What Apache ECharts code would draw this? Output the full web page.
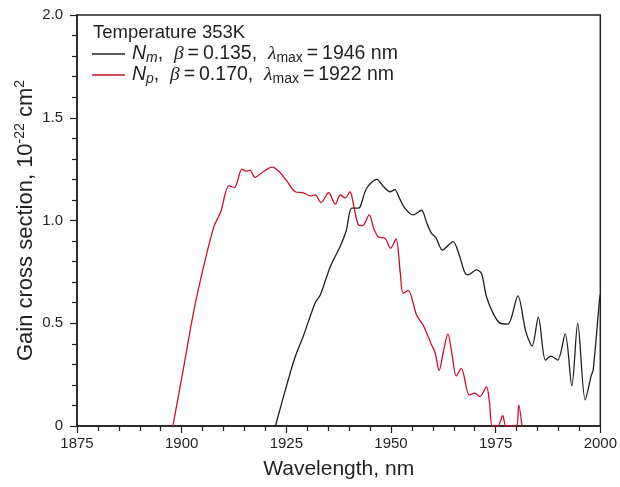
<!DOCTYPE html>
<html>
<head>
<meta charset="utf-8">
<script src="https://cdn.jsdelivr.net/npm/echarts@6/dist/echarts.min.js"></script>
<style>
  html, body { margin: 0; padding: 0; background: #fff; }
  #chart { width: 620px; height: 487px; }
</style>
</head>
<body>
<div id="chart"></div>
<script>
// Nm curve (black)
const nmWave = [1922.4, 1925.2, 1927, 1929.1, 1931.9, 1933.1, 1935.5, 1937.9, 1939.3, 1940.6, 1942, 1942.6, 1944.2, 1946.6, 1948.2, 1949.8, 1950.9, 1952, 1953.3, 1955.3, 1957.3, 1958.5, 1959.7, 1960.7, 1962.3, 1964.8, 1966.3, 1967.6, 1968.4, 1970.4, 1971.6, 1972.8, 1974.4, 1975.9, 1977.9, 1980.3, 1982.2, 1983.7, 1985.2, 1986.9, 1988.2, 1989.8, 1991.6, 1993.2, 1994.6, 1996.4, 1997.8, 1998.3, 1999.8, 2000];
const nmGain = [0, 0.207, 0.33, 0.44, 0.6, 0.637, 0.775, 0.876, 0.95, 1.06, 1.06, 1.065, 1.157, 1.2, 1.165, 1.14, 1.15, 1.11, 1.06, 1.027, 1.05, 0.99, 0.937, 0.918, 0.856, 0.897, 0.832, 0.748, 0.735, 0.76, 0.743, 0.63, 0.548, 0.503, 0.496, 0.633, 0.459, 0.39, 0.53, 0.321, 0.34, 0.321, 0.448, 0.195, 0.5, 0.127, 0.243, 0.273, 0.613, 0.64];

// Np curve (red)
const npWave = [1897.9, 1900.6, 1902.9, 1905.3, 1907.7, 1909.3, 1911.3, 1912.6, 1914.4, 1915.5, 1916.3, 1917.5, 1919, 1921.6, 1923.2, 1925.2, 1927.1, 1929.1, 1930.7, 1931.9, 1933.3, 1935.1, 1936.7, 1937.9, 1939.1, 1940.2, 1941.2, 1942.2, 1943.2, 1944.8, 1945.9, 1947, 1948.6, 1949.9, 1951.2, 1952.2, 1952.9, 1954.1, 1956.1, 1957.7, 1959.7, 1960.5, 1961.5, 1962.5, 1963.6, 1964.5, 1965.6, 1966.8, 1968.7, 1970, 1971.2, 1972.8, 1973.5, 1974.2, 1975.5, 1976.7, 1977.5, 1979.9, 1980.5, 1981.3];
const npGain = [0, 0.30, 0.56, 0.78, 0.97, 1.04, 1.17, 1.16, 1.25, 1.24, 1.245, 1.21, 1.23, 1.26, 1.24, 1.19, 1.14, 1.135, 1.12, 1.125, 1.087, 1.135, 1.08, 1.124, 1.11, 1.14, 1.06, 0.98, 0.975, 1.027, 0.96, 0.92, 0.913, 0.865, 0.91, 0.75, 0.646, 0.66, 0.54, 0.49, 0.394, 0.36, 0.27, 0.36, 0.448, 0.36, 0.243, 0.28, 0.15, 0.16, 0.143, 0.19, 0.12, 0, 0, 0.05, 0, 0, 0.102, 0];

const xTicks = [1875, 1900, 1925, 1950, 1975, 2000];
const yTicks = [0, 0.5, 1.0, 1.5, 2.0];

const seriesNames = ['Nm', 'Np'];
const legendText = {
  Nm: '{n|N}{sub|m}{t|,  }{g|β}{t|\u2009=\u20090.135,  }{g|λ}{sub2|max}{t|\u2009=\u20091946 nm}',
  Np: '{n|N}{sub|p}{t|,  }{g|β}{t|\u2009=\u20090.170,  }{g|λ}{sub2|max}{t|\u2009=\u20091922 nm}'
};

const BLACK = '#231f20';
const RED = '#c8102e';
const FONT = '"Liberation Sans", Arial, sans-serif';

const chart = echarts.init(document.getElementById('chart'));
chart.setOption({
  animation: false,
  textStyle: { fontFamily: FONT },
  title: {
    text: 'Temperature 353K',
    left: 93,
    top: 23,
    padding: 0,
    textStyle: { fontFamily: FONT, fontSize: 18.5, fontWeight: 'normal', color: '#231f20' }
  },
  legend: {
    orient: 'vertical',
    left: 92,
    top: 44,
    padding: 0,
    itemGap: 0,
    itemWidth: 33,
    itemHeight: 1.5,
    icon: 'rect',
    data: seriesNames,
    formatter: name => legendText[name],
    textStyle: {
      fontFamily: FONT,
      color: '#231f20',
      padding: [0, 0, 0, 2],
      rich: {
        n: { fontSize: 19.5, fontStyle: 'italic', lineHeight: 22, color: '#231f20' },
        g: { fontSize: 19.5, fontStyle: 'italic', lineHeight: 22, color: '#231f20', fontFamily: '"Liberation Serif", serif' },
        t: { fontSize: 19.5, lineHeight: 22, color: '#231f20' },
        sub: { fontSize: 14, fontStyle: 'italic', lineHeight: 12, verticalAlign: 'bottom', color: '#231f20' },
        sub2: { fontSize: 14, lineHeight: 12, verticalAlign: 'bottom', color: '#231f20' }
      }
    }
  },
  grid: {
    left: 77, right: 19, top: 15, bottom: 61,
    show: true,
    borderColor: '#231f20',
    borderWidth: 1.5,
    backgroundColor: 'transparent'
  },
  xAxis: {
    type: 'value',
    min: xTicks[0],
    max: xTicks[xTicks.length - 1],
    interval: 25,
    name: 'Wavelength, nm',
    nameLocation: 'middle',
    nameGap: 33,
    nameTextStyle: { fontFamily: FONT, fontSize: 21, color: '#231f20' },
    axisLine: { lineStyle: { color: '#231f20', width: 1.5 } },
    axisTick: { length: 7, lineStyle: { color: '#231f20', width: 1.2 } },
    minorTick: { show: true, splitNumber: 5, length: 5, lineStyle: { color: '#231f20', width: 1.2 } },
    axisLabel: {
      fontFamily: FONT, fontSize: 15, color: '#231f20', margin: 10,
      formatter: v => String(v)
    },
    splitLine: { show: false }
  },
  yAxis: {
    type: 'value',
    min: yTicks[0],
    max: yTicks[yTicks.length - 1],
    interval: 0.5,
    name: 'Gain cross section, 10{sup|-22} cm{sup|2}',
    nameLocation: 'middle',
    nameGap: 39,
    nameMoveOverlap: false,
    nameTextStyle: {
      fontFamily: FONT, fontSize: 22, color: '#231f20',
      rich: {
        sup: { fontSize: 14, lineHeight: 25, verticalAlign: 'top', color: '#231f20' }
      }
    },
    axisLine: { lineStyle: { color: '#231f20', width: 1.5 } },
    axisTick: { length: 7, lineStyle: { color: '#231f20', width: 1.2 } },
    minorTick: { show: true, splitNumber: 5, length: 5, lineStyle: { color: '#231f20', width: 1.2 } },
    axisLabel: {
      fontFamily: FONT, fontSize: 15, color: '#231f20', margin: 14,
      formatter: v => (v === 0 ? '0' : v.toFixed(1))
    },
    splitLine: { show: false }
  },
  series: [
    {
      name: 'Nm',
      type: 'line',
      data: nmWave.map((w, i) => [w, nmGain[i]]),
      smooth: 0.3,
      symbol: 'none',
      clip: true,
      lineStyle: { color: BLACK, width: 1.3 },
      itemStyle: { color: BLACK }
    },
    {
      name: 'Np',
      type: 'line',
      data: npWave.map((w, i) => [w, npGain[i]]),
      smooth: 0.3,
      symbol: 'none',
      clip: true,
      lineStyle: { color: RED, width: 1.3 },
      itemStyle: { color: RED }
    }
  ]
});
</script>
</body>
</html>
